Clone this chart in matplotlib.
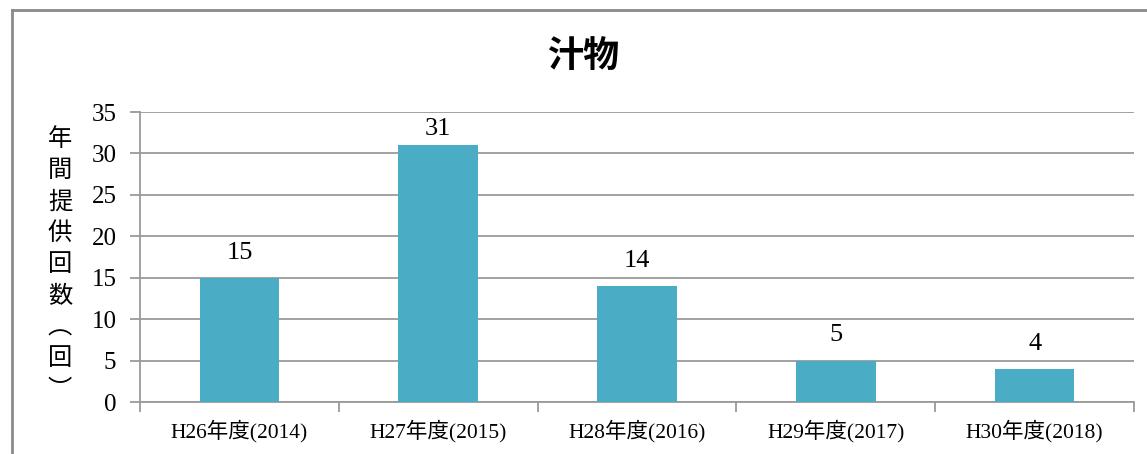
import matplotlib
matplotlib.use('Agg')
import matplotlib.pyplot as plt
import numpy as np
from matplotlib.lines import Line2D

# data
categories = ['H26年度(2014)', 'H27年度(2015)', 'H28年度(2016)', 'H29年度(2017)', 'H30年度(2018)']
counts = [15, 31, 14, 5, 4]
yticks = [0, 5, 10, 15, 20, 25, 30, 35]

serif = ['Liberation Serif', 'Noto Sans CJK JP']
cjk = ['Noto Sans CJK JP', 'DejaVu Sans']
plt.rcParams['font.family'] = serif

bar_color = '#4BACC6'
grid_color = '#9a9a9a'

fig = plt.figure(figsize=(11.47, 4.54), dpi=100)
ax = fig.add_axes([0.1221, 0.1145, 0.8666, 0.6388])

x = np.arange(len(categories))
ax.bar(x, counts, width=0.4, color=bar_color, zorder=3)
for xi, v in zip(x, counts):
    # labels sit above the bar, but are kept under the top gridline
    ax.text(xi, min(v + 1.7, 31.6), str(v), ha='center', va='bottom', fontsize=19, family=serif)

ax.set_xlim(-0.5, len(categories) - 0.5)
ax.set_ylim(0, 35)
ax.set_yticks(yticks)
ax.set_yticklabels([str(t) for t in yticks], fontsize=18, family=serif)
ax.yaxis.grid(True, color=grid_color, linewidth=1.3, zorder=0)

ax.set_xticks(x)
ax.set_xticklabels(categories, fontsize=15.5, family=serif)
ax.set_xticks(np.arange(len(categories) + 1) - 0.5, minor=True)
ax.tick_params(axis='x', which='major', length=0, pad=13)
ax.tick_params(axis='x', which='minor', length=7, width=1.3, color=grid_color, direction='out')
ax.tick_params(axis='y', length=7, width=1.3, color=grid_color, direction='out', pad=10)

for pos in ('top', 'right'):
    ax.spines[pos].set_visible(False)
for pos in ('left', 'bottom'):
    ax.spines[pos].set_color(grid_color)
    ax.spines[pos].set_linewidth(1.3)

# vertical y label
ax.text(-0.0805, 0.475, '年\n間\n提\n供\n回\n数\n︵\n回\n︶', transform=ax.transAxes,
        ha='center', va='center', fontsize=17.5, family=cjk, linespacing=1.27)

fig.text(0.508, 0.876, '汁物', ha='center', va='center', fontsize=26,
         fontweight='bold', family=cjk)

# outer chart frame
fig.add_artist(Line2D([0.0105, 0.0105], [0.0, 0.978], color='#8a8a8a', linewidth=2,
                      transform=fig.transFigure))
fig.add_artist(Line2D([0.0105, 1.0], [0.978, 0.978], color='#8a8a8a', linewidth=2,
                      transform=fig.transFigure))

fig.savefig('out.png', dpi=100)
